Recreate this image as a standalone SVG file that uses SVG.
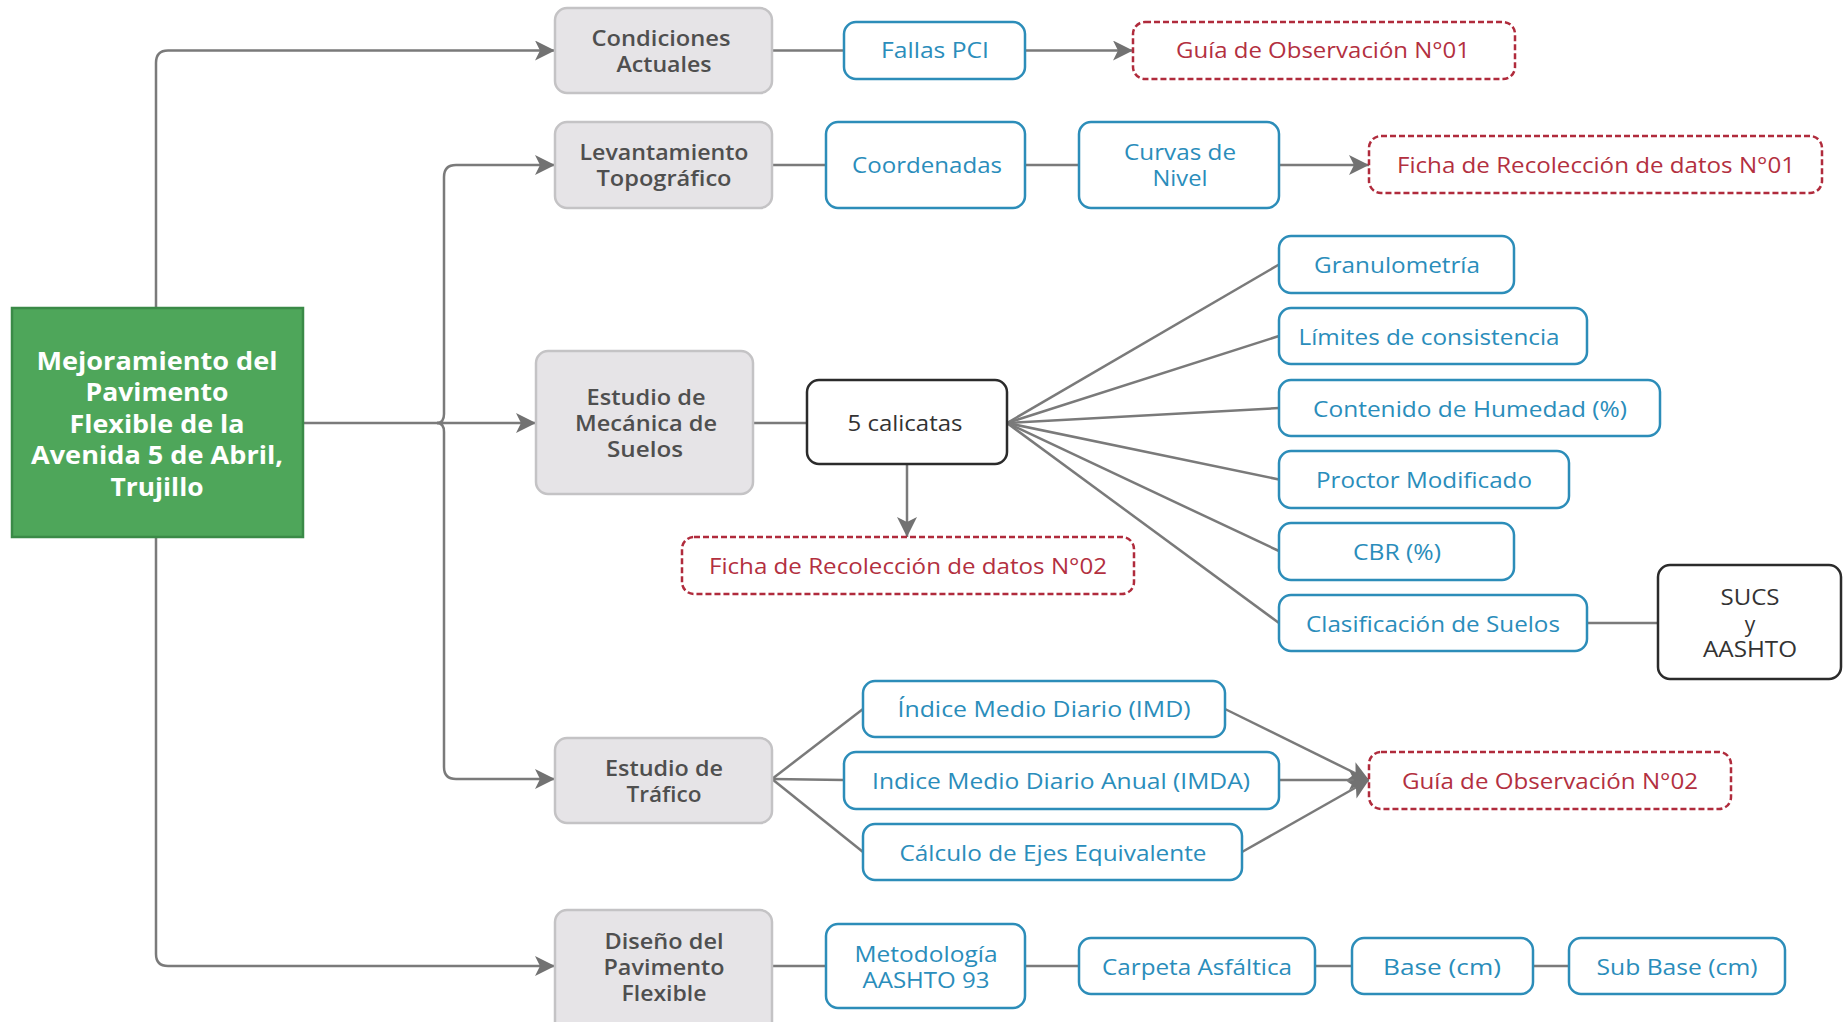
<svg xmlns="http://www.w3.org/2000/svg" width="1843" height="1022" viewBox="0 0 1843 1022">
<style>
  text { font-family: "Open Sans", "Noto Sans", "Liberation Sans", sans-serif; text-anchor: middle; }
  .gray rect { fill: #e6e4e7; stroke: #c4c3c5; stroke-width: 2.5; }
  .gray text { fill: #4f4f4f; font-size: 21px; font-weight: 600; }
  .blue rect { fill: #ffffff; stroke: #2c8db9; stroke-width: 2.5; }
  .blue text { fill: #2a8dbb; font-size: 21px; }
  .red rect { fill: #ffffff; stroke: #b02b3c; stroke-width: 2.5; stroke-dasharray: 6 3; }
  .red text { fill: #b3303f; font-size: 21px; }
  .black rect { fill: #ffffff; stroke: #2b2b2b; stroke-width: 2.5; }
  .black text { fill: #333333; font-size: 21px; }
  .green rect { fill: #4ea65a; stroke: #3a8a47; stroke-width: 2.5; }
  .green text { fill: #ffffff; font-size: 25px; font-weight: 700; }
  #connectors path, #connectors line { fill: none; stroke: #7a7a7a; stroke-width: 2.5; }
  .arr { marker-end: url(#ah); }
</style>
<defs>
  <marker id="ah" markerUnits="userSpaceOnUse" markerWidth="22" markerHeight="22" refX="20" refY="10" orient="auto">
    <path d="M0,0 L20,10 L0,20 L5,10 z" fill="#727272"/>
  </marker>
</defs>
<rect width="1843" height="1022" fill="#ffffff"/>

<g id="connectors">
  <path d="M156,308 V63 Q156,50.5 168,50.5 H555" class="arr"/>
  <path d="M156,537 V954 Q156,966 168,966 H555" class="arr"/>
  <path d="M303,423 H536" class="arr"/>
  <path d="M437,423 Q444,423 444,414 V177 Q444,165 456,165 H555" class="arr"/>
  <path d="M437,423 Q444,423 444,432 V767 Q444,779 456,779 H555" class="arr"/>
  <line x1="772" y1="50.5" x2="844" y2="50.5"/>
  <path d="M1025,50.5 H1133" class="arr"/>
  <line x1="772" y1="165" x2="826" y2="165"/>
  <line x1="1025" y1="165" x2="1079" y2="165"/>
  <path d="M1279,165 H1369" class="arr"/>
  <line x1="753" y1="423" x2="807" y2="423"/>
  <path d="M907,464 V537" class="arr"/>
  <line x1="1007" y1="423" x2="1279" y2="264.5"/>
  <line x1="1007" y1="423" x2="1279" y2="336"/>
  <line x1="1007" y1="423" x2="1279" y2="408"/>
  <line x1="1007" y1="423" x2="1279" y2="479.5"/>
  <line x1="1007" y1="423" x2="1279" y2="551"/>
  <line x1="1007" y1="423" x2="1279" y2="623"/>
  <line x1="1587" y1="623" x2="1658" y2="623"/>
  <line x1="772" y1="779" x2="863" y2="709"/>
  <line x1="772" y1="779" x2="844" y2="780"/>
  <line x1="772" y1="779" x2="863" y2="852"/>
  <path d="M1225,709 L1369,780" class="arr"/>
  <path d="M1279,780 H1369" class="arr"/>
  <path d="M1242,852 L1369,780" class="arr"/>
  <line x1="772" y1="966" x2="826" y2="966"/>
  <line x1="1025" y1="966" x2="1079" y2="966"/>
  <line x1="1315" y1="966" x2="1352" y2="966"/>
  <line x1="1533" y1="966" x2="1569" y2="966"/>
</g>

<g id="n-main" class="green">
  <rect x="12" y="308" width="291" height="229"/>
  <text x="157" y="370" textLength="241" lengthAdjust="spacingAndGlyphs">Mejoramiento del</text>
  <text x="157" y="401" textLength="143" lengthAdjust="spacingAndGlyphs">Pavimento</text>
  <text x="157" y="433" textLength="175" lengthAdjust="spacingAndGlyphs">Flexible de la</text>
  <text x="157" y="464" textLength="252" lengthAdjust="spacingAndGlyphs">Avenida 5 de Abril,</text>
  <text x="157" y="496" textLength="93" lengthAdjust="spacingAndGlyphs">Trujillo</text>
</g>

<g id="n-condiciones" class="gray">
  <rect x="555" y="8" width="217" height="85" rx="12"/>
  <text x="661" y="46" textLength="139" lengthAdjust="spacingAndGlyphs">Condiciones</text>
  <text x="664" y="72" textLength="95" lengthAdjust="spacingAndGlyphs">Actuales</text>
</g>
<g id="n-levantamiento" class="gray">
  <rect x="555" y="122" width="217" height="86" rx="12"/>
  <text x="664" y="160" textLength="169" lengthAdjust="spacingAndGlyphs">Levantamiento</text>
  <text x="664" y="186" textLength="135" lengthAdjust="spacingAndGlyphs">Topográfico</text>
</g>
<g id="n-mecanica" class="gray">
  <rect x="536" y="351" width="217" height="143" rx="12"/>
  <text x="646" y="405" textLength="119" lengthAdjust="spacingAndGlyphs">Estudio de</text>
  <text x="646" y="431" textLength="142" lengthAdjust="spacingAndGlyphs">Mecánica de</text>
  <text x="645" y="457" textLength="76" lengthAdjust="spacingAndGlyphs">Suelos</text>
</g>
<g id="n-trafico" class="gray">
  <rect x="555" y="738" width="217" height="85" rx="12"/>
  <text x="664" y="776" textLength="118" lengthAdjust="spacingAndGlyphs">Estudio de</text>
  <text x="664" y="802" textLength="75" lengthAdjust="spacingAndGlyphs">Tráfico</text>
</g>
<g id="n-diseno" class="gray">
  <rect x="555" y="910" width="217" height="124" rx="12"/>
  <text x="664" y="949" textLength="119" lengthAdjust="spacingAndGlyphs">Diseño del</text>
  <text x="664" y="975" textLength="121" lengthAdjust="spacingAndGlyphs">Pavimento</text>
  <text x="664" y="1001" textLength="85" lengthAdjust="spacingAndGlyphs">Flexible</text>
</g>

<g id="n-fallas" class="blue">
  <rect x="844" y="22" width="181" height="57" rx="12"/>
  <text x="935" y="58" textLength="108" lengthAdjust="spacingAndGlyphs">Fallas PCI</text>
</g>
<g id="n-guia1" class="red">
  <rect x="1133" y="22" width="382" height="57" rx="12"/>
  <text x="1323" y="58" textLength="294" lengthAdjust="spacingAndGlyphs">Guía de Observación N°01</text>
</g>
<g id="n-coordenadas" class="blue">
  <rect x="826" y="122" width="199" height="86" rx="12"/>
  <text x="927" y="173" textLength="150" lengthAdjust="spacingAndGlyphs">Coordenadas</text>
</g>
<g id="n-curvas" class="blue">
  <rect x="1079" y="122" width="200" height="86" rx="12"/>
  <text x="1180" y="160" textLength="112" lengthAdjust="spacingAndGlyphs">Curvas de</text>
  <text x="1180" y="186" textLength="55" lengthAdjust="spacingAndGlyphs">Nivel</text>
</g>
<g id="n-ficha1" class="red">
  <rect x="1369" y="136" width="453" height="57" rx="12"/>
  <text x="1596" y="173" textLength="398" lengthAdjust="spacingAndGlyphs">Ficha de Recolección de datos N°01</text>
</g>
<g id="n-calicatas" class="black">
  <rect x="807" y="380" width="200" height="84" rx="12"/>
  <text x="905" y="431" textLength="115" lengthAdjust="spacingAndGlyphs">5 calicatas</text>
</g>
<g id="n-ficha2" class="red">
  <rect x="682" y="537" width="452" height="57" rx="12"/>
  <text x="908" y="574" textLength="398" lengthAdjust="spacingAndGlyphs">Ficha de Recolección de datos N°02</text>
</g>
<g id="n-granulometria" class="blue">
  <rect x="1279" y="236" width="235" height="57" rx="12"/>
  <text x="1397" y="273" textLength="166" lengthAdjust="spacingAndGlyphs">Granulometría</text>
</g>
<g id="n-limites" class="blue">
  <rect x="1279" y="308" width="308" height="56" rx="12"/>
  <text x="1429" y="345" textLength="261" lengthAdjust="spacingAndGlyphs">Límites de consistencia</text>
</g>
<g id="n-humedad" class="blue">
  <rect x="1279" y="380" width="381" height="56" rx="12"/>
  <text x="1470" y="417" textLength="314" lengthAdjust="spacingAndGlyphs">Contenido de Humedad (%)</text>
</g>
<g id="n-proctor" class="blue">
  <rect x="1279" y="451" width="290" height="57" rx="12"/>
  <text x="1424" y="488" textLength="216" lengthAdjust="spacingAndGlyphs">Proctor Modificado</text>
</g>
<g id="n-cbr" class="blue">
  <rect x="1279" y="523" width="235" height="57" rx="12"/>
  <text x="1397" y="560" textLength="88" lengthAdjust="spacingAndGlyphs">CBR (%)</text>
</g>
<g id="n-clasificacion" class="blue">
  <rect x="1279" y="595" width="308" height="56" rx="12"/>
  <text x="1433" y="632" textLength="254" lengthAdjust="spacingAndGlyphs">Clasificación de Suelos</text>
</g>
<g id="n-sucs" class="black">
  <rect x="1658" y="565" width="183" height="114" rx="12"/>
  <text x="1750" y="605" textLength="59" lengthAdjust="spacingAndGlyphs">SUCS</text>
  <text x="1750" y="632">y</text>
  <text x="1750" y="657" textLength="94" lengthAdjust="spacingAndGlyphs">AASHTO</text>
</g>
<g id="n-imd" class="blue">
  <rect x="863" y="681" width="362" height="56" rx="12"/>
  <text x="1044" y="717" textLength="293" lengthAdjust="spacingAndGlyphs">Índice Medio Diario (IMD)</text>
</g>
<g id="n-imda" class="blue">
  <rect x="844" y="752" width="435" height="57" rx="12"/>
  <text x="1061" y="789" textLength="378" lengthAdjust="spacingAndGlyphs">Indice Medio Diario Anual (IMDA)</text>
</g>
<g id="n-ejes" class="blue">
  <rect x="863" y="824" width="379" height="56" rx="12"/>
  <text x="1053" y="861" textLength="307" lengthAdjust="spacingAndGlyphs">Cálculo de Ejes Equivalente</text>
</g>
<g id="n-guia2" class="red">
  <rect x="1369" y="752" width="362" height="57" rx="12"/>
  <text x="1550" y="789" textLength="296" lengthAdjust="spacingAndGlyphs">Guía de Observación N°02</text>
</g>
<g id="n-metodologia" class="blue">
  <rect x="826" y="924" width="199" height="84" rx="12"/>
  <text x="926" y="962" textLength="143" lengthAdjust="spacingAndGlyphs">Metodología</text>
  <text x="926" y="988" textLength="127" lengthAdjust="spacingAndGlyphs">AASHTO 93</text>
</g>
<g id="n-carpeta" class="blue">
  <rect x="1079" y="938" width="236" height="56" rx="12"/>
  <text x="1197" y="975" textLength="190" lengthAdjust="spacingAndGlyphs">Carpeta Asfáltica</text>
</g>
<g id="n-base" class="blue">
  <rect x="1352" y="938" width="181" height="56" rx="12"/>
  <text x="1442" y="975" textLength="118" lengthAdjust="spacingAndGlyphs">Base (cm)</text>
</g>
<g id="n-subbase" class="blue">
  <rect x="1569" y="938" width="216" height="56" rx="12"/>
  <text x="1677" y="975" textLength="161" lengthAdjust="spacingAndGlyphs">Sub Base (cm)</text>
</g>
</svg>
